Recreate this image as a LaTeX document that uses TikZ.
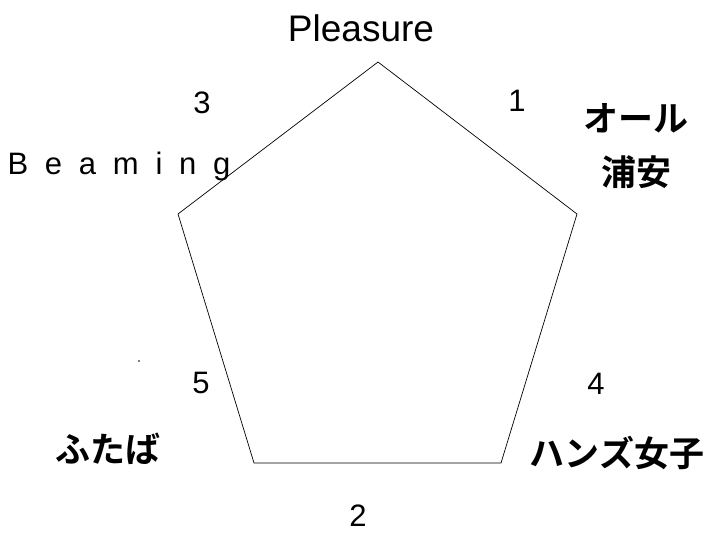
\documentclass[tikz,border=0pt]{standalone}
\usepackage{fontspec}
\setmainfont{Liberation Sans}
\newfontfamily\cjk{Noto Sans CJK JP Bold}
\begin{document}
\begin{tikzpicture}[x=1pt,y=-1pt,
  lab/.style={font=\fontsize{31}{33}\selectfont, inner sep=0pt},
  jlab/.style={font=\cjk\fontsize{35}{37}\selectfont, inner sep=0pt},
  edge/.style={draw=black, line width=0.7pt}]
\useasboundingbox (0,0) rectangle (712,535);
\coordinate (t) at (378,62);
\coordinate (r) at (577,214);
\coordinate (br) at (501,463);
\coordinate (bl) at (254,463);
\coordinate (l) at (178,214);
\draw[edge] (t) -- (r) -- (br) -- (bl) -- (l) -- cycle;
\node[lab, font=\fontsize{37}{39}\selectfont] (pl) at (361,28) {Pleasure};
\node[lab] (n3) at (202,103) {3};
\node[lab] (n1) at (517,101) {1};
\node[lab] (n5) at (201,383) {5};
\node[lab] (n4) at (596,384) {4};
\node[lab] (n2) at (358,516) {2};
\node[lab] (bm) at (119,166) {B\hspace{0.54em}e\hspace{0.54em}a\hspace{0.54em}m\hspace{0.54em}i\hspace{0.54em}n\hspace{0.54em}g};
\node[jlab] (ol) at (636,118) {オール};
\node[jlab] (ur) at (636,172) {浦安};
\node[jlab] (hz) at (617,453) {ハンズ女子};
\node[jlab] (fb) at (108,449) {ふたば};
\fill (139,361) circle (0.8);
\end{tikzpicture}
\end{document}
